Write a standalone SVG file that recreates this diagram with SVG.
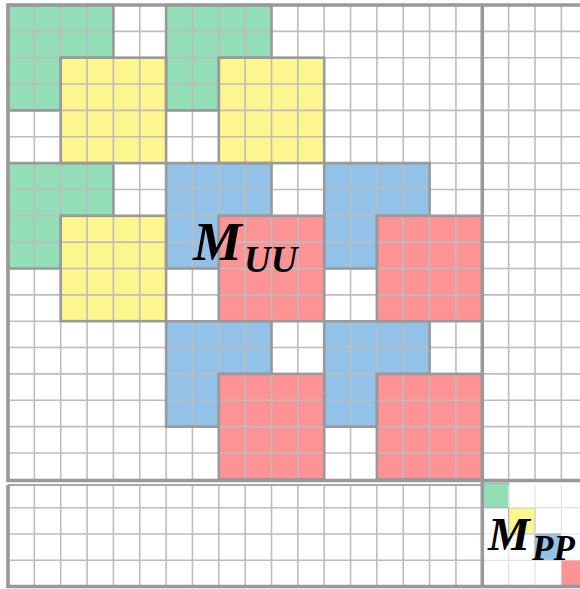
<svg xmlns="http://www.w3.org/2000/svg" width="580" height="589" viewBox="0 0 580 589">
<style>
.g{fill:#92deb6}.y{fill:#fdf68e}.b{fill:#92c2e8}.r{fill:#fd9394}
.grid{fill:none;stroke:#bdbdbd;stroke-width:1.6}
.faint{fill:none;stroke:#e2e2e2;stroke-width:1.2}
.edge{fill:none;stroke:#9a9a9a;stroke-width:2.6}
.thick{fill:none;stroke:#999999;stroke-width:3.6}
.small{stroke:#b0b0b0;stroke-width:1.2}
.lbl{font-family:"Liberation Serif","Times New Roman",serif;font-weight:bold;font-style:italic;fill:#000}
</style>
<defs>
<g id="gyFill"><rect class="g" x="0" y="0" width="105.4" height="105.4"/><rect class="y" x="52.7" y="52.7" width="105.4" height="105.4"/></g>
<g id="gyLine"><path class="edge" d="M0 0h105.4v52.7h-52.7v52.7h-52.7z"/><rect class="edge" x="52.7" y="52.7" width="105.4" height="105.4"/></g>
<g id="brFill"><rect class="b" x="0" y="0" width="105.4" height="105.4"/><rect class="r" x="52.7" y="52.7" width="105.4" height="105.4"/></g>
<g id="brLine"><path class="edge" d="M0 0h105.4v52.7h-52.7v52.7h-52.7z"/><rect class="edge" x="52.7" y="52.7" width="105.4" height="105.4"/></g>
</defs>
<rect x="0" y="0" width="580" height="589" fill="#ffffff"/>
<g id="muu-fills">
<use href="#gyFill" x="8" y="5"/>
<use href="#gyFill" x="166.1" y="5"/>
<use href="#gyFill" x="8" y="163.1"/>
<use href="#brFill" x="166.1" y="163.1"/>
<use href="#brFill" x="324.2" y="163.1"/>
<use href="#brFill" x="166.1" y="321.2"/>
<use href="#brFill" x="324.2" y="321.2"/>
</g>
<g id="mpp-fills">
<rect class="g small" x="482.3" y="483" width="26.35" height="24.7"/>
<rect class="y small" x="508.65" y="507.7" width="26.35" height="26.3"/>
<rect class="b small" x="535" y="534" width="26.35" height="26.3"/>
<rect class="r" x="561.35" y="560.3" width="26.35" height="26.3"/>
</g>
<g id="grid">
<path class="grid" d="M34.35 5V479.3M60.7 5V479.3M87.05 5V479.3M113.4 5V479.3M139.75 5V479.3M166.1 5V479.3M192.45 5V479.3M218.8 5V479.3M245.15 5V479.3M271.5 5V479.3M297.85 5V479.3M324.2 5V479.3M350.55 5V479.3M376.9 5V479.3M403.25 5V479.3M429.6 5V479.3M455.95 5V479.3M508.65 5V479.3M535 5V479.3M561.35 5V479.3"/>
<path class="grid" d="M8 31.35H580M8 57.7H580M8 84.05H580M8 110.4H580M8 136.75H580M8 163.1H580M8 189.45H580M8 215.8H580M8 242.15H580M8 268.5H580M8 294.85H580M8 321.2H580M8 347.55H580M8 373.9H580M8 400.25H580M8 426.6H580M8 452.95H580"/>
<path class="grid" d="M34.35 485V586.5M60.7 485V586.5M87.05 485V586.5M113.4 485V586.5M139.75 485V586.5M166.1 485V586.5M192.45 485V586.5M218.8 485V586.5M245.15 485V586.5M271.5 485V586.5M297.85 485V586.5M324.2 485V586.5M350.55 485V586.5M376.9 485V586.5M403.25 485V586.5M429.6 485V586.5M455.95 485V586.5M8 507.7H482.3M8 534H482.3M8 560.3H482.3"/>
<path class="faint" d="M508.65 485V507.7M535 485V534M561.35 485V560.3M508.65 534V586.5M535 560.3V586.5M508.65 507.7H580M482.3 534H535M561.35 534H580M482.3 560.3H561.35"/>
<path d="M8 485H482.3" fill="none" stroke="#a8a8a8" stroke-width="2.2"/>
</g>
<g id="muu-edges">
<use href="#gyLine" x="8" y="5"/>
<use href="#gyLine" x="166.1" y="5"/>
<use href="#gyLine" x="8" y="163.1"/>
<use href="#brLine" x="166.1" y="163.1"/>
<use href="#brLine" x="324.2" y="163.1"/>
<use href="#brLine" x="166.1" y="321.2"/>
<use href="#brLine" x="324.2" y="321.2"/>
</g>
<g id="frame">
<path class="thick" d="M6.2 5H580M8 5V480.5M8 485V586.5M6.2 480.5H580M6.2 586.5H580M482.3 5V586.5"/>
</g>
<g id="muu-label">
<text class="lbl" x="193" y="260" font-size="55">M</text>
<text class="lbl" x="244" y="272" font-size="37">UU</text>
</g>
<g id="mpp-label">
<text class="lbl" x="488" y="550" font-size="47">M</text>
<text class="lbl" x="532" y="560" font-size="35">PP</text>
</g>
</svg>
